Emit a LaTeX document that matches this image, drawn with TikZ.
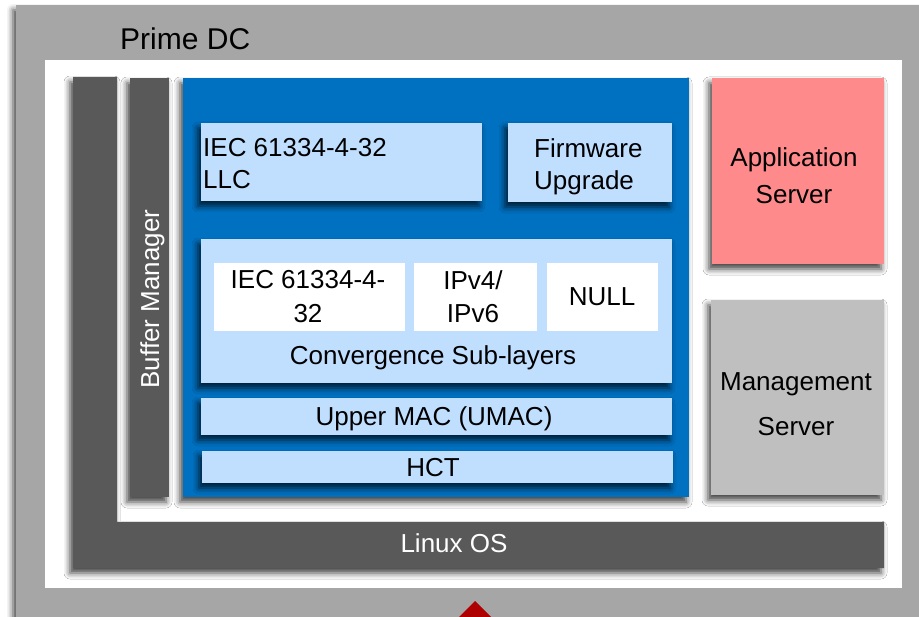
\documentclass[tikz,border=0pt]{standalone}
\usepackage{fontspec}
\setmainfont{Liberation Sans}
\usetikzlibrary{shadows.blur}
\definecolor{framegray}{HTML}{A6A6A6}
\definecolor{darkbar}{HTML}{595959}
\definecolor{stackblue}{HTML}{0070C0}
\definecolor{layerblue}{HTML}{C0DFFF}
\definecolor{apppink}{HTML}{FF8A8C}
\definecolor{mgmtgray}{HTML}{BFBFBF}
\definecolor{arrowred}{HTML}{AE0000}
\begin{document}
\begin{tikzpicture}[x=1pt,y=-1pt,
  box/.style={draw=none, inner sep=0pt, outer sep=0pt, anchor=north west},
  shade/.style={blur shadow={shadow xshift=-3pt, shadow yshift=-5pt,
      shadow blur radius=6pt, shadow opacity=75}},
  txt/.style={inner sep=0pt, align=center, font=\fontsize{26}{32}\selectfont},
]
\useasboundingbox (0,0) rectangle (919,617);

% outer frame and inner white area
\node[box, fill=framegray, shade, minimum width=930pt, minimum height=640pt] (frame) at (16,5) {};
\node[box, fill=white, minimum width=857pt, minimum height=528pt] (inner) at (45,60) {};
\node[anchor=base west, inner sep=0pt, font=\fontsize{30}{36}\selectfont] (title) at (120,49.5) {Prime DC};

% Linux OS (L-shaped bar)
\path[fill=darkbar, shade] (73,77) -- (117,77) -- (117,522) -- (884,522) -- (884,568) -- (73,568) -- cycle;
\node[txt, anchor=base, text=white] (linux) at (454,553) {Linux OS};

% buffer manager
\node[box, fill=darkbar, shade, minimum width=39pt, minimum height=419pt] (buffer) at (130,78) {};
\node[txt, anchor=base, rotate=90, text=white] (bufferlbl) at (159,299) {Buffer Manager};

% protocol stack
\node[box, fill=stackblue, shade, minimum width=506pt, minimum height=419pt] (stack) at (183,78) {};

\node[box, fill=layerblue, shade, minimum width=281pt, minimum height=78pt] (llc) at (201,123) {};
\node[txt, anchor=north west, align=left] (llclbl) at (203,138.5) {IEC 61334-4-32\\LLC};

\node[box, fill=layerblue, shade, minimum width=164pt, minimum height=79pt] (fw) at (508,123) {};
\node[txt, anchor=north west, align=left] (fwlbl) at (534,138.5) {Firmware\\Upgrade};

\node[box, fill=layerblue, shade, minimum width=471pt, minimum height=144pt] (conv) at (201,239) {};
\node[box, fill=white, minimum width=191pt, minimum height=68pt] (cs1) at (214,263) {};
\node[box, fill=white, minimum width=123pt, minimum height=68pt] (cs2) at (414,263) {};
\node[box, fill=white, minimum width=111pt, minimum height=68pt] (cs3) at (547,263) {};
\node[txt, anchor=north, font=\fontsize{26}{34}\selectfont] (cs1lbl) at (308,270.5) {IEC 61334-4-\\32};
\node[txt, anchor=north, font=\fontsize{26}{33}\selectfont] (cs2lbl) at (473,270.5) {IPv4/\\IPv6};
\node[txt, anchor=base] (cs3lbl) at (602,306) {NULL};
\node[txt, anchor=base] (convlbl) at (433,365) {Convergence Sub-layers};

\node[box, fill=layerblue, shade, minimum width=471pt, minimum height=37pt] (umac) at (201,398) {};
\node[txt, anchor=base] (umaclbl) at (434,426) {Upper MAC (UMAC)};

\node[box, fill=layerblue, shade, minimum width=471pt, minimum height=32pt] (hct) at (202,451) {};
\node[txt, anchor=base] (hctlbl) at (433,477) {HCT};

% servers
\node[box, fill=apppink, shade, minimum width=172pt, minimum height=186pt] (app) at (712,78) {};
\node[txt, anchor=north, font=\fontsize{26}{37}\selectfont] (applbl) at (794,147) {Application\\Server};

\node[box, fill=mgmtgray, shade, minimum width=173pt, minimum height=195pt] (mgmt) at (711,300) {};
\node[txt, anchor=north, font=\fontsize{26}{45}\selectfont] (mgmtlbl) at (796,372.5) {Management\\Server};

% arrow tip entering from below
\fill[arrowred] (475,601) -- (497,623) -- (453,623) -- cycle;
\end{tikzpicture}
\end{document}
